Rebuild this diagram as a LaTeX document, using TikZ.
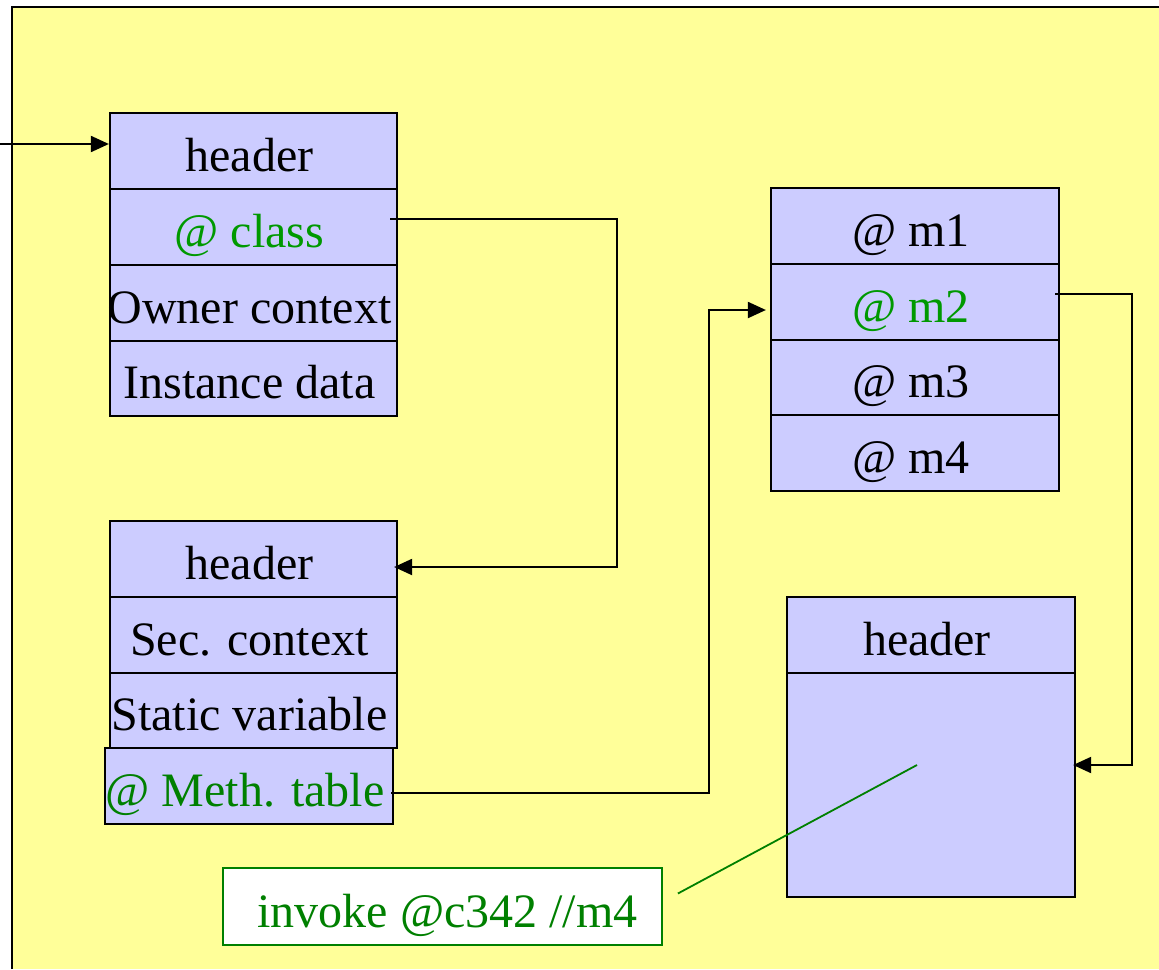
\documentclass[tikz,border=0pt]{standalone}
\usepackage{fontspec}
\setmainfont{Liberation Serif}
\usetikzlibrary{arrows.meta}
\definecolor{paper}{RGB}{255,255,153}
\definecolor{cellblue}{RGB}{204,204,255}
\definecolor{ptrgreen}{RGB}{0,153,0}
\definecolor{darkgreen}{RGB}{0,128,0}
\begin{document}
\begin{tikzpicture}[x=1pt,y=-1pt,
  cell/.style={draw=black, line width=2.2pt, fill=cellblue, inner sep=0pt,
    minimum width=287pt, minimum height=76pt, text height=40pt, text depth=0pt,
    font=\fontsize{48}{56}\selectfont, execute at begin node={\kern-8pt}},
  ptr/.style={text=ptrgreen},
  link/.style={draw=black, line width=2pt, -{Triangle[length=18pt,width=16pt]}},
  note/.style={draw=darkgreen, line width=1.8pt, fill=white, text=darkgreen,
    inner sep=0pt, minimum width=439pt, minimum height=77pt, text height=42pt,
    text depth=0pt, font=\fontsize{48}{56}\selectfont, execute at begin node={\kern10pt}}]
\useasboundingbox (0,0) rectangle (1159,969);

% slide background
\fill[paper] (12,7) rectangle (1159,969);
\draw[line width=2.6pt] (12,969) -- (12,7) -- (1159,7);

% object instance
\node[cell] (oh) at (253.5,151) {header};
\node[cell, ptr] (cls) at (253.5,227) {@ class};
\node[cell] (own) at (253.5,303) {Owner context};
\node[cell, minimum height=75pt] (inst) at (253.5,378.5) {Instance data};

% class object
\node[cell] (ch) at (253.5,559) {header};
\node[cell] (sec) at (253.5,635) {Sec. context};
\node[cell, minimum height=75pt] (stat) at (253.5,710.5) {Static variable};
\node[cell, minimum width=288pt, text=darkgreen] (mt) at (249,786) {@ Meth. table};

% method table
\node[cell, minimum width=288pt] (m1) at (915,226) {@ m1};
\node[cell, minimum width=288pt, ptr] (m2) at (915,302) {@ m2};
\node[cell, minimum width=288pt, minimum height=75pt] (m3) at (915,377.5) {@ m3};
\node[cell, minimum width=288pt] (m4) at (915,453) {@ m4};

% method code object
\node[cell, minimum width=288pt] (ih) at (931,635) {header};
\node[cell, minimum width=288pt, minimum height=224pt] (ib) at (931,785) {};

% call site
\node[note] (inv) at (442.5,906.5) {invoke @c342 //m4};

% references
\coordinate (ref) at (0,144);
\draw[link] (ref) -- ([yshift=7pt]oh.west);
\draw[link] ([xshift=-8pt,yshift=8pt]cls.east) -- ++(227,0) |- ([xshift=-4pt,yshift=-8pt]ch.east);
\draw[link] ([xshift=-3pt,yshift=-7pt]mt.east) -- ++(318,0) |- ([xshift=-4pt,yshift=-8pt]m2.west);
\draw[link] ([xshift=-5pt,yshift=8pt]m2.east) -- ++(77,0) |- ([xshift=-3pt,yshift=20pt]ib.east);
\draw[darkgreen, line width=1.8pt] ([xshift=-14pt,yshift=20pt]ib.center) -- ([xshift=15pt,yshift=13pt]inv.east);
\end{tikzpicture}
\end{document}
